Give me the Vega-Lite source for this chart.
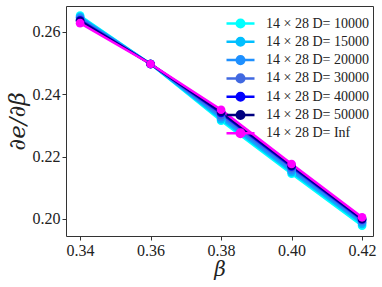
{
  "$schema": "https://vega.github.io/schema/vega-lite/v6.json",
  "width": 307,
  "height": 230,
  "autosize": "none",
  "padding": {"left": 66, "top": 6, "right": 9, "bottom": 51},
  "background": "white",
  "config": {
    "view": {"stroke": "#333333", "strokeWidth": 1},
    "font": "Liberation Serif",
    "axis": {"grid": false, "domain": false, "tickColor": "#333333", "tickSize": 4, "labelFont": "Liberation Serif", "labelFontSize": 16, "labelColor": "#222222", "titleFont": "DejaVu Serif", "titleFontStyle": "italic", "titleFontWeight": "normal", "titleColor": "#222222"}
  },
  "data": {"values": [
    {"beta": 0.34, "v": 0.2652, "s": "14 × 28 D= 10000"},
    {"beta": 0.36, "v": 0.2497, "s": "14 × 28 D= 10000"},
    {"beta": 0.38, "v": 0.2315, "s": "14 × 28 D= 10000"},
    {"beta": 0.40, "v": 0.2145, "s": "14 × 28 D= 10000"},
    {"beta": 0.42, "v": 0.1978, "s": "14 × 28 D= 10000"},
    {"beta": 0.34, "v": 0.2648, "s": "14 × 28 D= 15000"},
    {"beta": 0.36, "v": 0.2497, "s": "14 × 28 D= 15000"},
    {"beta": 0.38, "v": 0.2320, "s": "14 × 28 D= 15000"},
    {"beta": 0.40, "v": 0.2150, "s": "14 × 28 D= 15000"},
    {"beta": 0.42, "v": 0.1984, "s": "14 × 28 D= 15000"},
    {"beta": 0.34, "v": 0.2645, "s": "14 × 28 D= 20000"},
    {"beta": 0.36, "v": 0.2497, "s": "14 × 28 D= 20000"},
    {"beta": 0.38, "v": 0.2326, "s": "14 × 28 D= 20000"},
    {"beta": 0.40, "v": 0.2156, "s": "14 × 28 D= 20000"},
    {"beta": 0.42, "v": 0.1989, "s": "14 × 28 D= 20000"},
    {"beta": 0.34, "v": 0.2640, "s": "14 × 28 D= 30000"},
    {"beta": 0.36, "v": 0.2497, "s": "14 × 28 D= 30000"},
    {"beta": 0.38, "v": 0.2333, "s": "14 × 28 D= 30000"},
    {"beta": 0.40, "v": 0.2163, "s": "14 × 28 D= 30000"},
    {"beta": 0.42, "v": 0.1995, "s": "14 × 28 D= 30000"},
    {"beta": 0.34, "v": 0.2637, "s": "14 × 28 D= 40000"},
    {"beta": 0.36, "v": 0.2497, "s": "14 × 28 D= 40000"},
    {"beta": 0.38, "v": 0.2340, "s": "14 × 28 D= 40000"},
    {"beta": 0.40, "v": 0.2168, "s": "14 × 28 D= 40000"},
    {"beta": 0.42, "v": 0.1998, "s": "14 × 28 D= 40000"},
    {"beta": 0.34, "v": 0.2635, "s": "14 × 28 D= 50000"},
    {"beta": 0.36, "v": 0.2497, "s": "14 × 28 D= 50000"},
    {"beta": 0.38, "v": 0.2343, "s": "14 × 28 D= 50000"},
    {"beta": 0.40, "v": 0.2171, "s": "14 × 28 D= 50000"},
    {"beta": 0.42, "v": 0.2000, "s": "14 × 28 D= 50000"},
    {"beta": 0.34, "v": 0.2628, "s": "14 × 28 D= Inf"},
    {"beta": 0.36, "v": 0.2497, "s": "14 × 28 D= Inf"},
    {"beta": 0.38, "v": 0.2350, "s": "14 × 28 D= Inf"},
    {"beta": 0.40, "v": 0.2176, "s": "14 × 28 D= Inf"},
    {"beta": 0.42, "v": 0.2005, "s": "14 × 28 D= Inf"}
  ]},
  "mark": {"type": "line", "strokeWidth": 2.5, "point": {"filled": true, "size": 75}},
  "encoding": {
    "x": {"field": "beta", "type": "quantitative", "scale": {"domain": [0.336, 0.4231], "nice": false, "zero": false},
      "axis": {"values": [0.34, 0.36, 0.38, 0.40, 0.42], "format": ".2f", "title": "β", "titleFontSize": 20, "titlePadding": 1, "labelPadding": 2}},
    "y": {"field": "v", "type": "quantitative", "scale": {"domain": [0.1945, 0.2683], "nice": false, "zero": false},
      "axis": {"values": [0.20, 0.22, 0.24, 0.26], "format": ".2f", "title": "∂e/∂β", "titleFontSize": 23, "titlePadding": 3, "labelPadding": 2}},
    "color": {"field": "s", "type": "nominal",
      "scale": {"domain": ["14 × 28 D= 10000", "14 × 28 D= 15000", "14 × 28 D= 20000", "14 × 28 D= 30000", "14 × 28 D= 40000", "14 × 28 D= 50000", "14 × 28 D= Inf"],
        "range": ["#00ffff", "#00bfff", "#1e90ff", "#4169e1", "#0000ff", "#000080", "#ff00ff"]},
      "legend": {"title": null, "orient": "none", "legendX": 166, "legendY": 9, "padding": 0, "labelFont": "Liberation Serif", "labelFontSize": 14, "labelColor": "#222222", "rowPadding": -0.7, "symbolSize": 196, "symbolStrokeWidth": 2.5,
        "symbolType": "M-2,0L-0.54,0M0.54,0L2,0M-0.54,0A0.54,0.54 0 1,1 0.54,0A0.54,0.54 0 1,1 -0.54,0Z", "labelOffset": 17,
        "encode": {"symbols": {"update": {"fill": {"scale": "color", "field": "value"}}}}}}
  }
}
